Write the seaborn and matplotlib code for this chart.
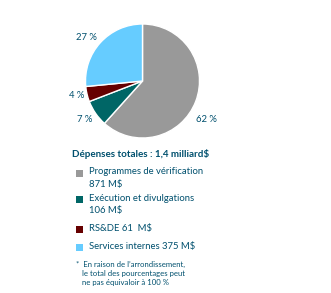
import matplotlib
matplotlib.use("Agg")
import matplotlib.pyplot as plt
import seaborn as sns
from matplotlib.patches import Rectangle

sns.set_theme(style="white")
plt.rcParams['font.family'] = ['Lato', 'DejaVu Sans']

categories = ["Programmes de vérification", "Exécution et divulgations", "RS&DE", "Services internes"]
amounts = [871, 106, 61, 375]          # M$
percents = [62, 7, 4, 27]
legend_labels = ["Programmes de vérification\n871 M$", "Exécution et divulgations\n106 M$",
                 "RS&DE 61  M$", "Services internes 375 M$"]
colors = ["#999999", "#006666", "#660000", "#66CCFF"]
title = "Dépenses totales : 1,4 milliard$"
footnote = "*  En raison de l’arrondissement,\n   le total des pourcentages peut\n   ne pas équivaloir à 100 %"
text_color = "#00506E"

W, H = 331, 293
fig = plt.figure(figsize=(W / 100, H / 100), dpi=100)
fig.patch.set_facecolor("white")

cx, cy, r = 142.5, 81, 57
ax = fig.add_axes([(cx - r) / W, 1 - (cy + r) / H, 2 * r / W, 2 * r / H])
pct_iter = iter(percents)
wedges, texts, autotexts = ax.pie(
    amounts, colors=colors, startangle=90, counterclock=False,
    autopct=lambda p: f"{next(pct_iter)} %", pctdistance=1.25,
    wedgeprops=dict(edgecolor="white", linewidth=1.0),
    textprops=dict(color=text_color, fontsize=6.8))
# label placement as in the reference
label_pos = [(1.12, -0.68), (-1.01, -0.68), (-1.15, -0.26), (-0.99, 0.77)]
for t, p in zip(autotexts, label_pos):
    t.set_position(p)
    t.set_va("center")
    t.set_ha("center")
ax.set_xlim(-1, 1)
ax.set_ylim(-1, 1)
ax.set_aspect("equal")
ax.axis("off")

fig.text(72 / W, 1 - 154 / H, title, fontsize=7.1, fontweight="bold",
         color=text_color, va="center", ha="left")

rows = [173, 199.5, 229.5, 247.5]
for lab, col, y in zip(legend_labels, colors, rows):
    fig.patches.append(Rectangle((76 / W, 1 - (y + 3.5) / H), 7 / W, 7 / H,
                                 transform=fig.transFigure, facecolor=col,
                                 edgecolor="none"))
    fig.text(89 / W, 1 - (y - 5.5) / H, lab, fontsize=6.8, color=text_color,
             va="top", ha="left", linespacing=1.45)

fig.text(76 / W, 1 - 261 / H, footnote, fontsize=5.6, color=text_color,
         va="top", ha="left", linespacing=1.35)

fig.savefig("out.png", dpi=100, facecolor="white")
